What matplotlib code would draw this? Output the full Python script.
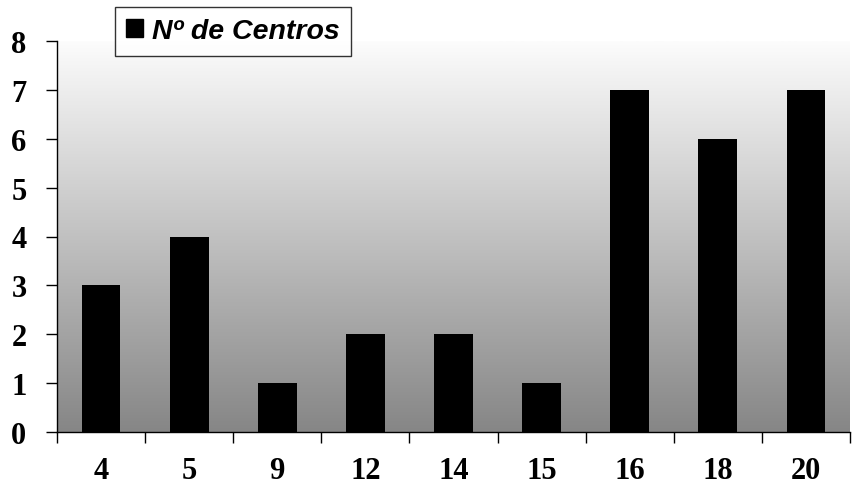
import matplotlib
matplotlib.use("Agg")
import matplotlib.pyplot as plt
import numpy as np
from matplotlib.patches import Patch
from matplotlib.colors import LinearSegmentedColormap

categories = ["4", "5", "9", "12", "14", "15", "16", "18", "20"]
values = [3, 4, 1, 2, 2, 1, 7, 6, 7]
series_name = "Nº de Centros"

fig = plt.figure(figsize=(8.59, 4.89), dpi=100)
ax = fig.add_axes([57/859, 1-433/489, (850-57)/859, (433-42)/489])

# gradient background
grad = np.linspace(0, 1, 256).reshape(-1, 1)
cmap = LinearSegmentedColormap.from_list("g", ["#fcfcfc", "#868686"], N=256)
ax.imshow(grad, aspect="auto", cmap=cmap, extent=[0, 1, 0, 1], transform=ax.transAxes,
          origin="upper", zorder=0)

x = np.arange(len(categories))
ax.bar(x, values, width=0.44, color="black", zorder=2)
ax.set_xlim(-0.5, len(categories) - 0.5)
ax.set_ylim(0, 8)
ax.set_yticks(range(0, 9))
ax.set_xticks(x)
ax.set_xticklabels(categories)
ax.set_xticks(np.arange(-0.5, len(categories) + 0.5, 1), minor=True)
ax.tick_params(axis="x", which="major", length=0, pad=17)
ax.tick_params(axis="x", which="minor", length=8, direction="out", width=1)
ax.tick_params(axis="y", length=8, direction="out", width=1, pad=14)
for lab in ax.get_xticklabels() + ax.get_yticklabels():
    lab.set_fontfamily("Liberation Serif")
    lab.set_fontweight("bold")
    lab.set_fontsize(22)
for s in ["top", "right"]:
    ax.spines[s].set_visible(False)
ax.spines["left"].set_linewidth(1)
ax.spines["bottom"].set_linewidth(1)

leg = fig.legend(handles=[Patch(facecolor="black", edgecolor="black", label=series_name)],
                 loc="upper left", bbox_to_anchor=(115/859, 1-8/489),
                 prop={"family": "Liberation Sans", "weight": "bold", "style": "italic", "size": 20.5},
                 frameon=True, fancybox=False, edgecolor="black", handlelength=0.6, handleheight=0.6,
                 handletextpad=0.3, borderpad=0.4, borderaxespad=0)
leg.get_frame().set_linewidth(1)

fig.savefig("out.png", dpi=100)
